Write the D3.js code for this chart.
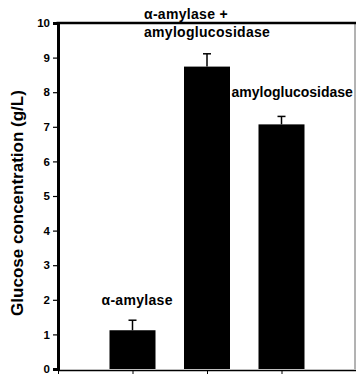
<!DOCTYPE html>
<html><head><meta charset="utf-8">
<script src="https://cdn.jsdelivr.net/npm/d3@7"></script>
<style>
html,body{margin:0;padding:0;background:#fff;}
svg{display:block;}
text{font-family:"Liberation Sans",Arial,sans-serif;font-weight:bold;fill:#000;}
</style></head>
<body>
<script>
const categories = ["α-amylase", "α-amylase + amyloglucosidase", "amyloglucosidase"];
const values = [1.12, 8.74, 7.07];
const errors = [0.29, 0.37, 0.23];
const yTicks = [0,1,2,3,4,5,6,7,8,9,10];
const yTitle = "Glucose concentration (g/L)";
const labelLines = [["α-amylase"], ["α-amylase +", "amyloglucosidase"], ["amyloglucosidase"]];

const W = 356, H = 375;
const svg = d3.select("body").append("svg").attr("width", W).attr("height", H);

const x = d3.scaleLinear().domain([0, 4]).range([58, 356]);
const y = d3.scaleLinear().domain([0, 10]).range([369, 23]);
const bw = 46;

// right frame line
svg.append("line").attr("x1", 355).attr("x2", 355).attr("y1", y(10)).attr("y2", y(0))
  .attr("stroke", "#666").attr("stroke-width", 1);

// bars
svg.selectAll("rect.bar").data(values).join("rect")
  .attr("x", (d, i) => x(i + 1) - bw / 2)
  .attr("y", d => y(d))
  .attr("width", bw)
  .attr("height", d => y(0) - y(d))
  .attr("fill", "#000");

// error bars
const eg = svg.append("g");
values.forEach((v, i) => {
  const cx = x(i + 1);
  eg.append("line").attr("x1", cx).attr("x2", cx).attr("y1", y(v)).attr("y2", y(v + errors[i]))
    .attr("stroke", "#000").attr("stroke-width", 1.5);
  eg.append("line").attr("x1", cx - 4).attr("x2", cx + 4).attr("y1", y(v + errors[i])).attr("y2", y(v + errors[i]))
    .attr("stroke", "#000").attr("stroke-width", 1.5);
});

// y axis
const ya = svg.append("g").attr("transform", `translate(${x(0)},0)`)
  .call(d3.axisLeft(y).tickValues(yTicks).tickSize(5).tickPadding(3));
ya.select(".domain").attr("stroke-width", 3);
ya.selectAll(".tick line").attr("stroke-width", 1.2);
ya.selectAll(".tick text").style("font-size", "11.5px").attr("font-family", null);

// x axis
const xa = svg.append("g").attr("transform", `translate(0,${y(0) + 1})`)
  .call(d3.axisBottom(x).tickValues([0, 1, 2, 3]).tickSize(4).tickSizeOuter(0).tickFormat(""));
xa.select(".domain").attr("stroke-width", 1.5);

// top frame line
svg.append("line").attr("x1", x(0) - 1.5).attr("x2", W).attr("y1", y(10)).attr("y2", y(10))
  .attr("stroke", "#000").attr("stroke-width", 2.5);

// y title
svg.append("text")
  .attr("transform", `translate(23,203) rotate(-90)`)
  .attr("text-anchor", "middle")
  .style("font-size", "17px")
  .text(yTitle);

// labels
const lab = svg.append("g").style("font-size", "14px");
// bar 1
lab.append("text").attr("x", x(1) - 31).attr("y", 305).style("letter-spacing", "0.3px").text(labelLines[0][0]);
// bar 2
lab.append("text").attr("x", x(2) - 63).attr("y", 19).style("letter-spacing", "0.3px").text(labelLines[1][0]);
lab.append("text").attr("x", x(2) - 63).attr("y", 37).style("letter-spacing", "0.3px").text(labelLines[1][1]);
// bar 3
lab.append("text").attr("x", x(3) - 50).attr("y", 97).text(labelLines[2][0]);
</script>
</body></html>
